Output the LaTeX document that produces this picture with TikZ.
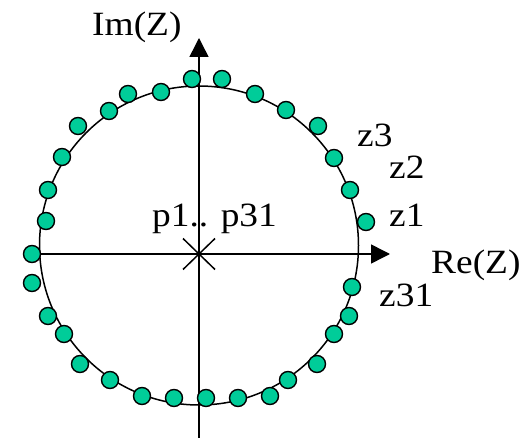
\documentclass[tikz,border=0pt]{standalone}
\usepackage{fontspec}
\setmainfont{Liberation Serif}[FakeStretch=1.1]
\usetikzlibrary{arrows.meta}
\definecolor{zgreen}{RGB}{0,204,153}
\begin{document}
\begin{tikzpicture}[x=1pt,y=-1pt,
  zero/.style={circle,draw=black,fill=zgreen,line width=1.4pt,minimum size=17pt,inner sep=0pt},
  lbl/.style={font=\fontsize{34}{37}\selectfont,inner sep=0pt,anchor=base west},
  axisline/.style={line width=1.5pt,-{Triangle[length=19pt,width=19pt]}},
  unitcircle/.style={line width=1.5pt}]
\useasboundingbox (0,0) rectangle (530,438);
% circle
\draw[unitcircle] (199,245.5) circle[radius=159.5];
% axes
\coordinate (xl) at (35,254);
\coordinate (xr) at (390,254);
\coordinate (yb) at (199,438);
\coordinate (yt) at (199,38);
\coordinate (o) at (199,254);
\draw[axisline] (xl) -- (xr);
\draw[axisline] (yb) -- (yt);
% pole cross
\draw[line width=1.5pt] ([shift={(-16,-15.5)}]o) -- ([shift={(16,15.5)}]o);
\draw[line width=1.5pt] ([shift={(-16,15.5)}]o) -- ([shift={(16,-15.5)}]o);
% zeros
\foreach \n/\x/\y in {a1/32/254, a2/46/221, a3/48/190, a4/62/157, a5/78/126, a6/109/111, a7/128/94, a8/161/92, a9/192/79, a10/222/79, a11/255/94, a12/286/110, a13/318/126, a14/334/158, a15/350/190, a16/366/222,
  b1/32/283, b2/48/316, b3/64/334, b4/80/364, b5/110/380, b6/142/396, b7/174/398, b8/206/398, b9/238/398, b10/270/396, b11/288/380, b12/317/364, b13/334/334, b14/349/316, b15/352/287}
  \node[zero] (\n) at (\x,\y) {};
% labels
\node[lbl] (im) at (92,36) {Im(Z)};
\node[lbl] (re) at (431,274) {Re(Z)};
\node[lbl] (z3) at (357,147) {z3};
\node[lbl] (z2) at (389,179) {z2};
\node[lbl] (z1) at (389,227) {z1};
\node[lbl] (z31) at (379,307) {z31};
\node[lbl] (p) at (152,227) {p1.. p31};
\end{tikzpicture}
\end{document}
